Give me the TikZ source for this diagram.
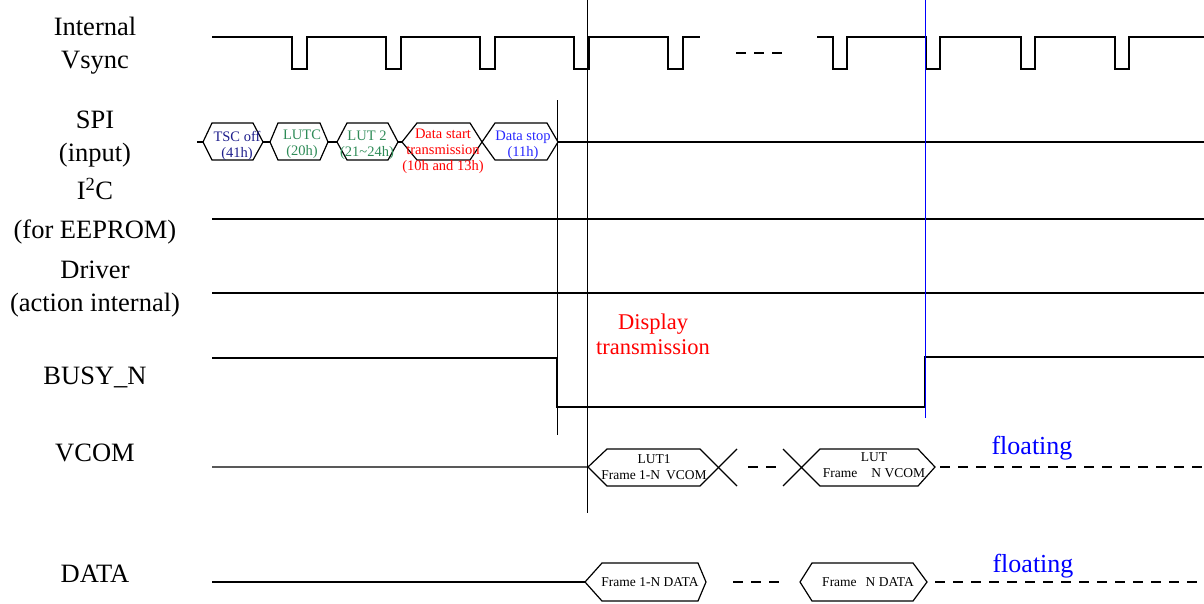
\documentclass[tikz,border=0pt]{standalone}
\usepackage{fontspec}
\setmainfont{Liberation Serif}
\definecolor{tscnavy}{RGB}{30,30,140}
\definecolor{lutgreen}{RGB}{46,139,87}
\definecolor{stopblue}{RGB}{40,40,255}
\tikzset{
  siglabel/.style={align=center,font=\fontsize{26.5}{33}\selectfont,inner sep=0pt},
  spitext/.style={align=center,font=\fontsize{14.5}{16}\selectfont,inner sep=0pt},
  frametext/.style={align=center,font=\fontsize{13.5}{16}\selectfont,inner sep=0pt},
  floattext/.style={font=\fontsize{26}{30}\selectfont,text=blue,inner sep=0pt},
  wave/.style={line width=1.2pt},
  gapline/.style={line width=1.2pt,dash pattern=on 10pt off 8pt},
}
\begin{document}
\begin{tikzpicture}[x=1pt,y=-1pt]
\useasboundingbox (0,0) rectangle (1204,603);
% signal names
\node[siglabel] (vsync) at (95,46) {Internal\\Vsync};
\node[siglabel] (spi) at (95,139) {SPI\\(input)};
\node[siglabel] (iic) at (95,211) {I\textsuperscript{2}C\\[6pt](for EEPROM)};
\node[siglabel] (drv) at (95,289) {Driver\\(action internal)};
\node[siglabel] (busy) at (95,377) {BUSY\_N};
\node[siglabel] (vcom) at (95,453) {VCOM};
\node[siglabel] (data) at (95,574) {DATA};

% internal vsync
\draw[wave] (212,37) foreach \p in {292,386,480,574,668}
  { -- (\p,37) -- (\p,69) -- ({\p+15},69) -- ({\p+15},37) } -- (700,37);
\draw[gapline] (736,53) -- (784,53);
\draw[wave] (817,37) foreach \p in {833,926,1021,1115}
  { -- (\p,37) -- (\p,69) -- ({\p+14},69) -- ({\p+14},37) } -- (1204,37);

% spi commands
\draw[wave] (197,142) -- (203,142);
\foreach \a/\b/\c/\d in {203/212/253/263,270/278/320/328,337/347/388/398,402/417/470/482,482/495/547/558}
  \draw[wave] (\a,142) -- (\b,123) -- (\c,123) -- (\d,142) -- (\c,160) -- (\b,160) -- cycle;
\draw[wave] (263,142) -- (270,142) (328,142) -- (337,142) (398,142) -- (402,142);
\draw[wave] (558,142) -- (1204,142);
\node[spitext,text=tscnavy] (tsc) at (237,146) {TSC off\\(41h)};
\node[spitext,text=lutgreen] (lutc) at (302,144) {LUTC\\(20h)};
\node[spitext,text=lutgreen] (lut2) at (367,145) {LUT 2\\(21\textasciitilde24h)};
\node[spitext,text=red] (dstart) at (443,151) {Data start\\transmission\\(10h and 13h)};
\node[spitext,text=stopblue] (dstop) at (523,145) {Data stop\\(11h)};

% i2c and driver
\draw[wave] (212,219) -- (1204,219);
\draw[wave] (212,293) -- (1204,293);

% busy
\draw[wave] (212,358) -- (557,358) -- (557,407) -- (925,407) -- (925,357) -- (1204,357);
\node[font=\fontsize{22.5}{25}\selectfont,text=red,align=center,inner sep=0pt] (disp) at (653,334) {Display\\transmission};

% markers
\draw[line width=0.8pt] (557,100) -- (557,435);
\draw[line width=0.8pt] (587,0) -- (587,513);
\draw[line width=0.8pt,blue] (925,0) -- (925,418);

% vcom
\draw[wave] (212,467) -- (588,467) -- (607,449) -- (700,449) -- (737,486);
\draw[wave] (588,467) -- (607,486) -- (700,486) -- (737,449);
\draw[gapline] (748,467) -- (782,467);
\draw[wave] (783,449) -- (820,486) -- (918,486) -- (935,467) -- (918,449) -- (820,449) -- (783,486);
\draw[gapline] (940,467) -- (1204,467);
\node[frametext] (lut1) at (654,467) {LUT1\\Frame 1-N\hspace{6pt}VCOM};
\node[frametext] (lutn) at (874,465) {LUT\\Frame\hspace{14pt}N VCOM};
\node[floattext] (flt1) at (1032,448) {floating};

% data
\draw[wave] (212,582) -- (585,582);
\draw[wave] (585,582) -- (602,563) -- (698,563) -- (706,582) -- (698,601) -- (602,601) -- cycle;
\draw[gapline] (733,582) -- (784,582);
\draw[wave] (800,582) -- (812,563) -- (913,563) -- (927,582) -- (913,601) -- (812,601) -- cycle;
\draw[gapline] (935,582) -- (1204,582);
\node[frametext] (fr1) at (650,582) {Frame 1-N DATA};
\node[frametext] (frn) at (868,582) {Frame\hspace{9pt}N DATA};
\node[floattext] (flt2) at (1033,566) {floating};
\end{tikzpicture}
\end{document}
